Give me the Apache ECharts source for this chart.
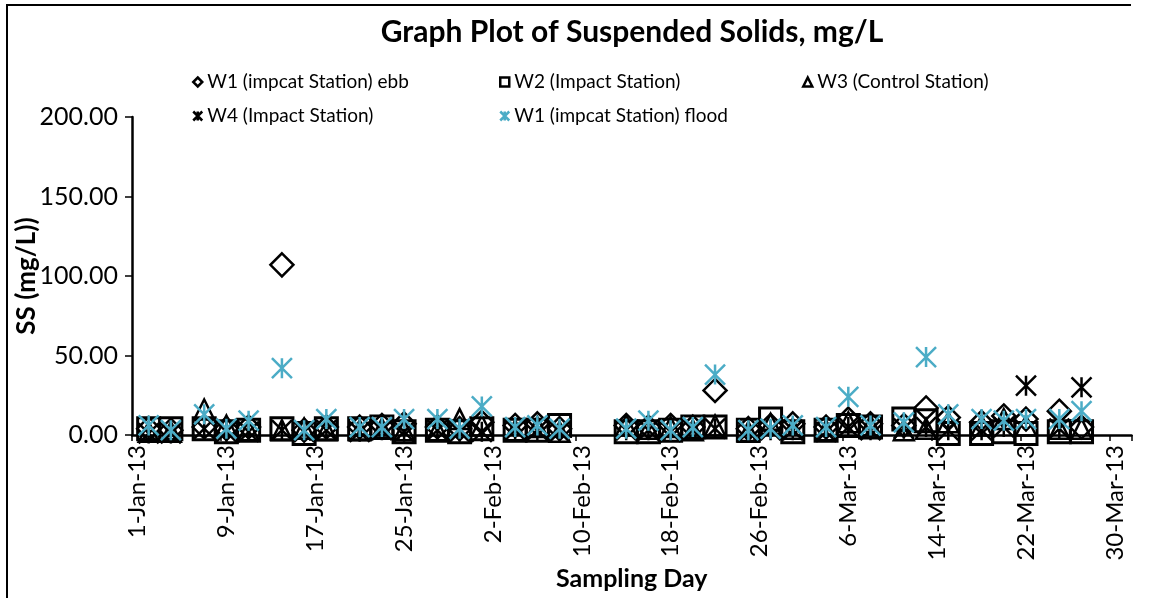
<!DOCTYPE html>
<html><head><meta charset="utf-8">
<script src="https://cdn.jsdelivr.net/npm/echarts@6/dist/echarts.min.js"></script>
<style>html,body{margin:0;padding:0;background:#fff}#c{width:1153px;height:598px}</style>
</head><body><div id="c"></div>
<script>
// ---- data ----
const sampleDates = ['2-Jan-13','4-Jan-13','7-Jan-13','9-Jan-13','11-Jan-13','14-Jan-13','16-Jan-13','18-Jan-13',
  '21-Jan-13','23-Jan-13','25-Jan-13','28-Jan-13','30-Jan-13','1-Feb-13','4-Feb-13','6-Feb-13','8-Feb-13',
  '14-Feb-13','16-Feb-13','18-Feb-13','20-Feb-13','22-Feb-13','25-Feb-13','27-Feb-13','1-Mar-13','4-Mar-13',
  '6-Mar-13','8-Mar-13','11-Mar-13','13-Mar-13','15-Mar-13','18-Mar-13','20-Mar-13','22-Mar-13','25-Mar-13','27-Mar-13'];
const w1Ebb   = [4,3,5,4,5,107,3,5, 5,6,7,5,4,8,6,7,4, 6,5,6,5,28,4,6,7,5, 10,7,6,17,11,8,12,10,15,5];
const w2      = [4,4,4,2,3,4,1,4, 4,5,2,3,2,4,3,3,6, 2,2,3,5,5,3,10,2,3, 6,5,10,9,1,1,2,1,2,2];
const w3      = [2,2,16,6,3,3,4,3, 3,4,3,3,10,6,3,5,2, 6,4,5,3,6,2,7,4,3, 8,6,3,4,8,6,10,6,4,4];
const w4      = [1,1,4,2,2,3,2,3, 2,3,2,3,2,2,3,3,2, 3,3,2,3,4,2,3,3,2, 5,3,4,5,3,3,5,31,4,30];
const w1Flood = [6,3,13,4,9,42,3,10, 5,5,10,10,4,18,5,6,4, 4,9,3,5,38,3,4,6,5, 24,6,8,49,13,10,9,10,10,15];
const seriesNames = ['W1 (impcat Station) ebb','W2 (Impact Station)','W3 (Control Station)','W4 (Impact Station)','W1 (impcat Station) flood'];
const tickLabels = ['1-Jan-13','9-Jan-13','17-Jan-13','25-Jan-13','2-Feb-13','10-Feb-13','18-Feb-13','26-Feb-13','6-Mar-13','14-Mar-13','22-Mar-13','30-Mar-13'];
const yTicks = [0,50,100,150,200];

// ---- axis categories: every day 1-Jan-13 .. 31-Mar-13 ----
const MONTHS = ['Jan','Feb','Mar'], MDAYS = [31,28,31];
const dayCategories = [];
for (let m = 0; m < 3; m++) for (let d = 1; d <= MDAYS[m]; d++) dayCategories.push(d + '-' + MONTHS[m] + '-13');

const FONT = 'Lato';
const STAR = 'path://M0,0L10,10M10,0L0,10M5,0L5,10';
const CYAN = '#4BACC6';
function pts(vals){ return sampleDates.map((d,i)=>[d, vals[i]]); }
function sc(name, vals, symbol, size, color, bw){
  return {name, type:'scatter', data:pts(vals), symbol, symbolSize:size,
    itemStyle:{color:'rgba(0,0,0,0)', borderColor:color, borderWidth:bw, opacity:1}, emphasis:{disabled:true}};
}
function lg(name, icon, left, top, color){
  return {data:[{name, icon, itemStyle:{color:'rgba(0,0,0,0)', borderColor:color, borderWidth:2.5, opacity:1}}],
    left, top, padding:0, itemWidth:9, itemHeight:9, selectedMode:false,
    textStyle:{fontFamily:FONT, fontSize:19, color:'#000', lineHeight:22}};
}
const chart = echarts.init(document.getElementById('c'), null, {renderer:'canvas'});
chart.setOption({
  animation:false,
  backgroundColor:'#fff',
  title:{text:'Graph Plot of Suspended Solids, mg/L', left:627, top:12, textAlign:'center',
    textStyle:{fontFamily:FONT, fontWeight:'bold', fontSize:30, color:'#000'}},
  legend:[
    lg(seriesNames[0],'diamond',192,71,'#000'),
    lg(seriesNames[1],'rect',499,71,'#000'),
    lg(seriesNames[2],'triangle',802,71,'#000'),
    lg(seriesNames[3],STAR,192,105,'#000'),
    lg(seriesNames[4],STAR,499,105,CYAN)
  ],
  grid:{left:132, right:21.5, top:117, bottom:163, containLabel:false, outerBoundsMode:'none'},
  xAxis:{type:'category', data:dayCategories, boundaryGap:true,
    axisLine:{show:true, lineStyle:{color:'#000', width:2.5}},
    axisTick:{show:true, interval:7, length:6, lineStyle:{color:'#000', width:1.5}},
    axisLabel:{interval:7, rotate:90, margin:10, fontFamily:FONT, fontSize:24, color:'#000',
      formatter:v => tickLabels.includes(v) ? v : ''},
    splitLine:{show:false},
    name:'Sampling Day', nameLocation:'middle', nameGap:131, nameMoveOverlap:false,
    nameTextStyle:{fontFamily:FONT, fontWeight:'bold', fontSize:25, color:'#000'}},
  yAxis:{type:'value', min:yTicks[0], max:yTicks[yTicks.length-1], interval:50,
    axisLine:{show:true, lineStyle:{color:'#000', width:2.5}},
    axisTick:{show:true, length:7, lineStyle:{color:'#000', width:1.5}},
    axisLabel:{margin:14, fontFamily:FONT, fontSize:25, color:'#000', formatter:v=>v.toFixed(2)},
    splitLine:{show:false},
    name:'SS (mg/L))', nameLocation:'middle', nameGap:92, nameRotate:90, nameMoveOverlap:false,
    nameTextStyle:{fontFamily:FONT, fontWeight:'bold', fontSize:26, color:'#000'}},
  series:[
    sc(seriesNames[0], w1Ebb, 'diamond', 23, '#000', 2.5),
    sc(seriesNames[1], w2, 'rect', 22, '#000', 3),
    sc(seriesNames[2], w3, 'triangle', 20, '#000', 2.5),
    sc(seriesNames[3], w4, STAR, 20, '#000', 2.5),
    sc(seriesNames[4], w1Flood, STAR, 20, CYAN, 2.5)
  ],
  graphic:[
    {type:'polyline', silent:true, shape:{points:[[7,598],[7,5],[1131,5]]}, style:{stroke:'#000', lineWidth:2, fill:null}}
  ]
});
</script></body></html>
